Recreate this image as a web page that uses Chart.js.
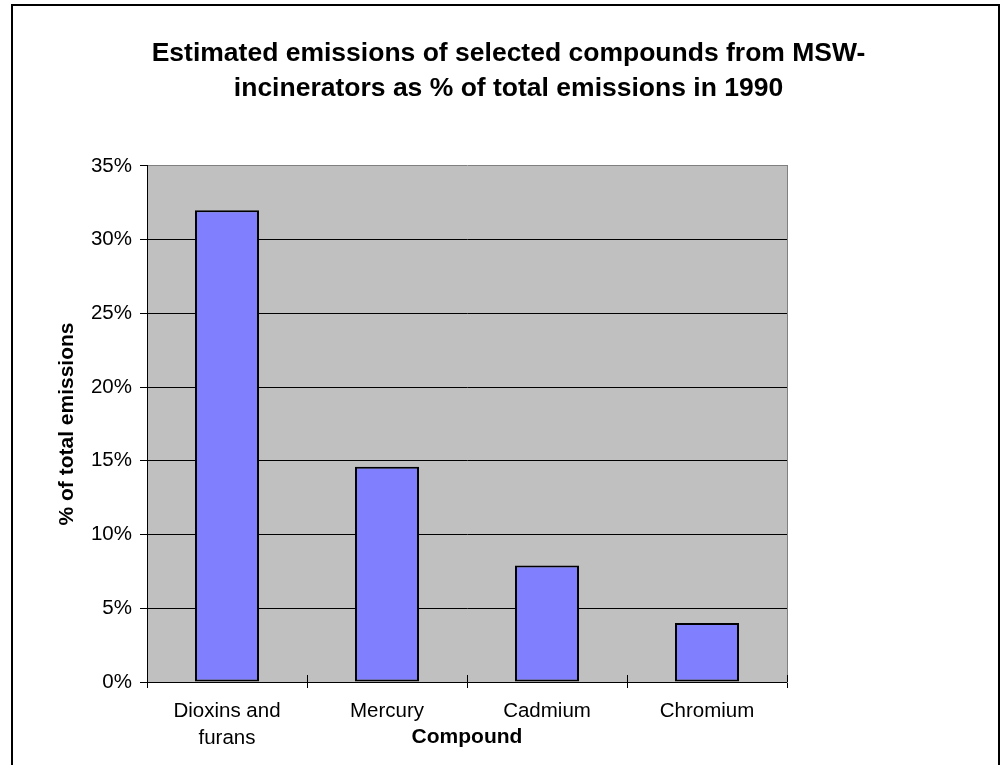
<!DOCTYPE html>
<html lang="en">
<head>
    <meta charset="UTF-8">
    <title>Estimated emissions of selected compounds</title>
    <script src="https://cdn.jsdelivr.net/npm/chart.js"></script>
    <style>
        body {
            margin: 0;
            background-color: #ffffff;
            overflow: hidden;
        }

        .frame {
            position: absolute;
            left: 11px;
            top: 4px;
            width: 985px;
            height: 800px;
            border: 2px solid #000000;
            border-bottom: none;
        }

        canvas {
            position: absolute;
            left: 0;
            top: 0;
        }
    </style>
</head>
<body>
    <div class="frame"></div>
    <canvas id="emissionsChart" width="1003" height="765"></canvas>

    <script>
        const compounds = [['Dioxins and', 'furans'], 'Mercury', 'Cadmium', 'Chromium'];
        const shareOfTotal = [32, 14.6, 7.9, 4.0];
        const yTicks = [0, 5, 10, 15, 20, 25, 30, 35];

        const fontFamily = "'Liberation Sans', Arial, sans-serif";

        // grey plot area
        const plotBackground = {
            id: 'plotBackground',
            beforeDraw(chart) {
                const { ctx, chartArea } = chart;
                ctx.save();
                ctx.fillStyle = '#c0c0c0';
                ctx.fillRect(chartArea.left, chartArea.top, chartArea.right - chartArea.left, chartArea.bottom - chartArea.top);
                ctx.restore();
            }
        };

        // the category tick marks cross the axis in the original
        const crossTicks = {
            id: 'crossTicks',
            afterDatasetsDraw(chart) {
                const { ctx, chartArea } = chart;
                const xs = chart.scales.x;
                ctx.save();
                ctx.strokeStyle = '#000000';
                ctx.lineWidth = 1;
                for (let i = 0; i <= compounds.length; i++) {
                    const x = Math.round(xs.getPixelForValue(i - 0.5)) + 0.5;
                    ctx.beginPath();
                    ctx.moveTo(x, chartArea.bottom - 7);
                    ctx.lineTo(x, chartArea.bottom);
                    ctx.stroke();
                }
                ctx.restore();
            }
        };

        const ctx = document.getElementById('emissionsChart').getContext('2d');

        new Chart(ctx, {
            type: 'bar',
            data: {
                labels: compounds,
                datasets: [{
                    label: '% of total emissions',
                    data: shareOfTotal,
                    backgroundColor: '#8080ff',
                    borderColor: '#000000',
                    borderWidth: 2,
                    borderSkipped: false,
                    barPercentage: 0.4,
                    categoryPercentage: 1.0
                }]
            },
            options: {
                responsive: false,
                animation: false,
                layout: {
                    padding: { left: 14, right: 0, top: 0, bottom: 0 }
                },
                plugins: {
                    legend: { display: false },
                    tooltip: { enabled: false },
                    title: {
                        display: true,
                        text: ['Estimated emissions of selected compounds from MSW-', 'incinerators as % of total emissions in 1990'],
                        color: '#000000',
                        font: { family: fontFamily, size: 26.5, weight: 'bold', lineHeight: 1.32 },
                        padding: { top: 36.5, bottom: 59.5 }
                    }
                },
                scales: {
                    x: {
                        grid: {
                            drawOnChartArea: false,
                            tickLength: 6,
                            color: '#000000'
                        },
                        border: { color: '#000000', width: 1 },
                        ticks: {
                            color: '#000000',
                            padding: 10,
                            maxRotation: 0,
                            font: { family: fontFamily, size: 20.5, lineHeight: 1.317 }
                        },
                        title: {
                            display: true,
                            text: 'Compound',
                            color: '#000000',
                            font: { family: fontFamily, size: 21, weight: 'bold' },
                            padding: { top: 0, bottom: 14.7 }
                        },
                        afterFit(scale) {
                            scale.height = 83;
                        }
                    },
                    y: {
                        min: 0,
                        max: 35,
                        afterBuildTicks(scale) {
                            scale.ticks = yTicks.map(v => ({ value: v }));
                        },
                        grid: {
                            color: c => c.tick && c.tick.value === 35 ? '#808080' : '#000000',
                            tickColor: '#000000',
                            tickLength: 7
                        },
                        border: { color: '#000000', width: 1 },
                        ticks: {
                            color: '#000000',
                            padding: 8,
                            font: { family: fontFamily, size: 20.5 },
                            callback: v => v + '%'
                        },
                        title: {
                            display: true,
                            text: '% of total emissions',
                            color: '#000000',
                            font: { family: fontFamily, size: 21, weight: 'bold' },
                            padding: { top: 40.9, bottom: 0 }
                        },
                        afterFit(scale) {
                            scale.width = 133;
                        }
                    },
                    y2: {
                        position: 'right',
                        grid: { display: false },
                        ticks: { display: false },
                        border: { color: '#808080', width: 1 },
                        afterFit(scale) {
                            scale.width = 216;
                        }
                    }
                }
            },
            plugins: [plotBackground, crossTicks]
        });
    </script>
</body>
</html>
